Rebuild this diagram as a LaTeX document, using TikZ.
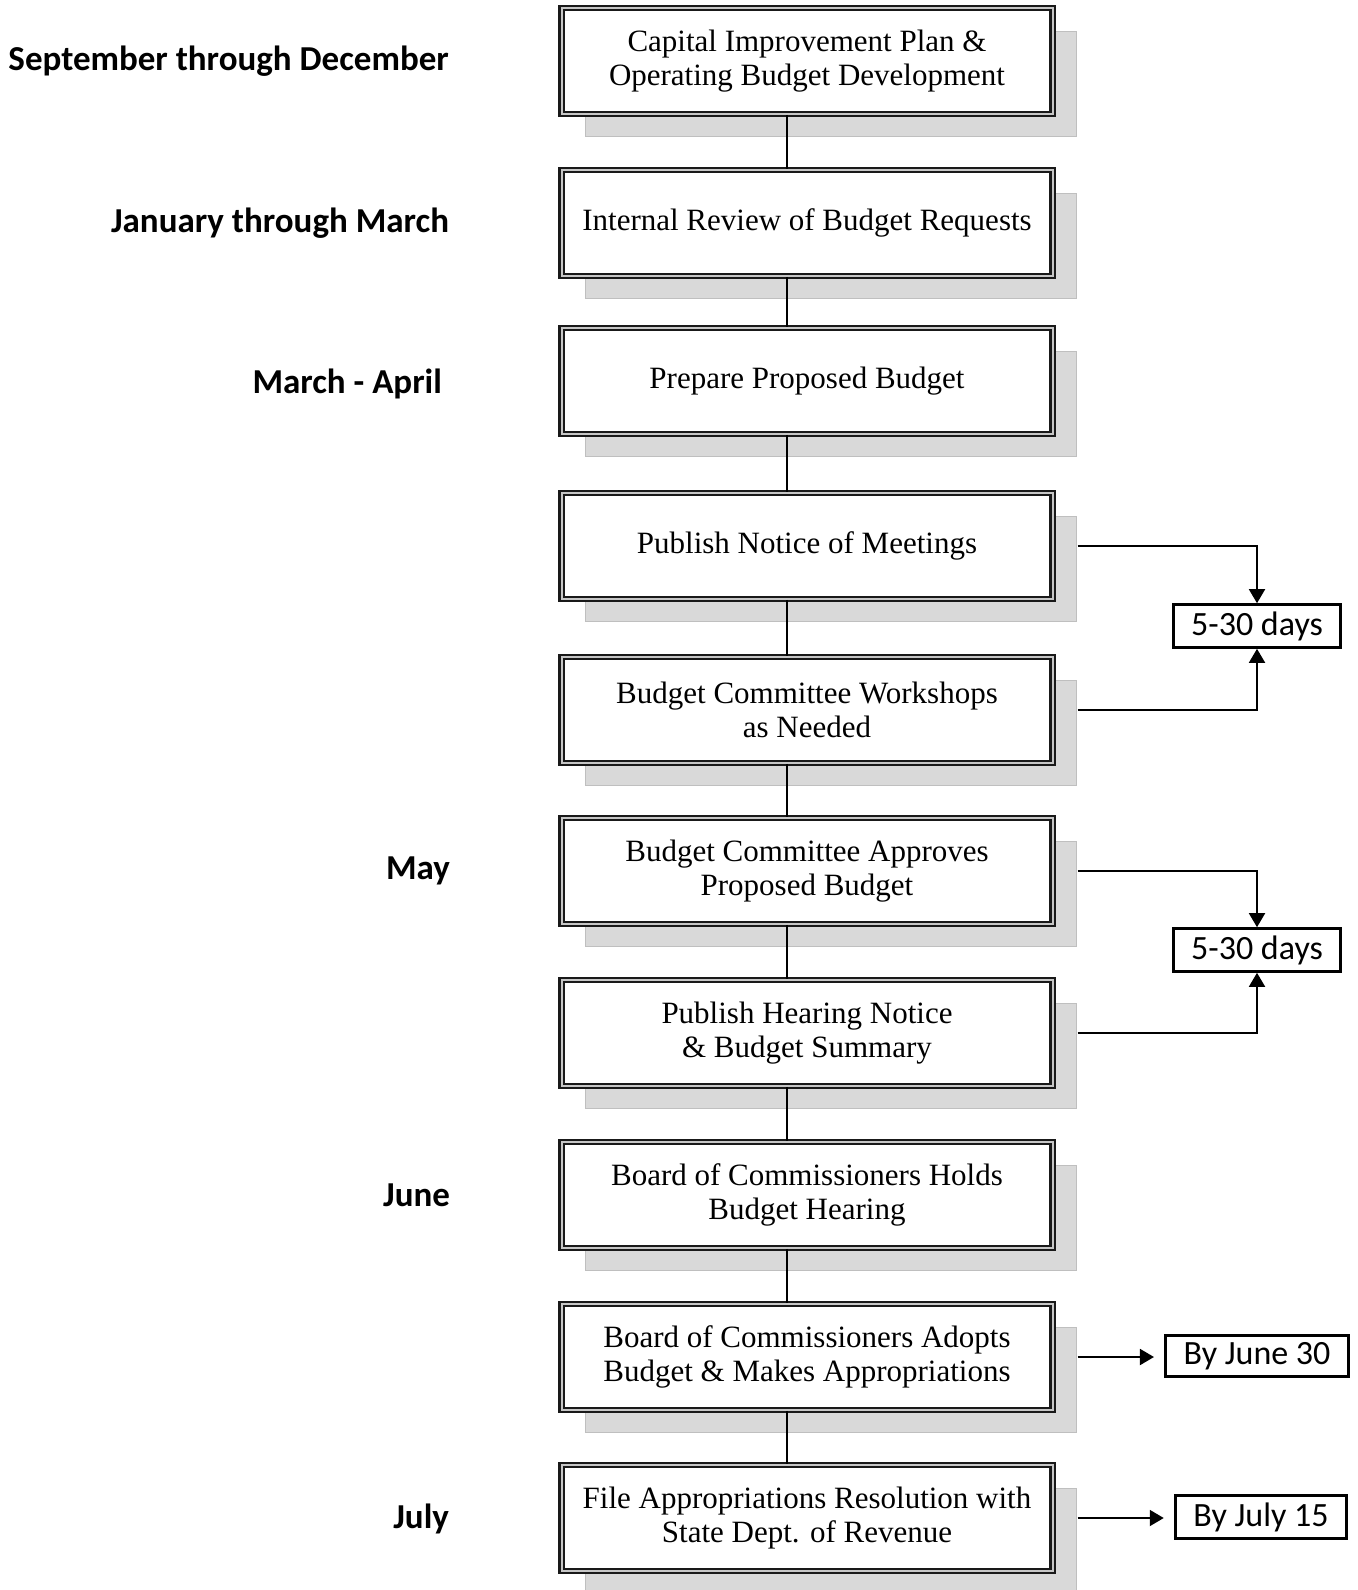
\documentclass[tikz,border=0pt]{standalone}
\usepackage{fontspec}
\setmainfont{Liberation Serif}
\newfontfamily\calibri{Carlito}
\usepackage{tikz}
\usetikzlibrary{calc,positioning,shapes,shadows,arrows.meta}

\definecolor{shadowgray}{RGB}{217,217,217}

\tikzset{
  stage/.style = {draw=black!90, line width=1.1pt, double=gray!45, double distance=1pt,
    fill=white, minimum width=245.5pt, minimum height=52.75pt, inner sep=0pt,
    align=center, font=\fontsize{15.5}{17.2}\selectfont,
    drop shadow={shadow xshift=12pt, shadow yshift=-11.5pt, fill=shadowgray,
      opacity=1, draw=gray!50, line width=0.5pt}},
  when/.style = {anchor=east, font=\calibri\bfseries\fontsize{17.5}{21}\selectfont},
  deadline/.style = {draw, line width=1.6pt, fill=white, inner xsep=9pt,
    minimum height=20pt, font=\calibri\fontsize{17}{20}\selectfont},
  link/.style = {line width=0.9pt},
  pointer/.style = {line width=0.9pt, -{Triangle[length=7pt,width=8pt]}}
}

\begin{document}
\begin{tikzpicture}[x=0.5pt, y=-0.5pt]
\useasboundingbox (0,0) rectangle (1357,1590);

% steps of the budget calendar
\node[stage] (s1) at (807,61) {Capital Improvement Plan \&\\Operating Budget Development};
\node[stage] (s2) at (807,223) {Internal Review of Budget Requests};
\node[stage] (s3) at (807,381) {Prepare Proposed Budget};
\node[stage] (s4) at (807,546) {Publish Notice of Meetings};
\node[stage] (s5) at (807,710) {Budget Committee Workshops\\as Needed};
\node[stage] (s6) at (807,871) {Budget Committee Approves\\Proposed Budget};
\node[stage] (s7) at (807,1033) {Publish Hearing Notice\\\& Budget Summary};
\node[stage] (s8) at (807,1195) {Board of Commissioners Holds\\Budget Hearing};
\node[stage] (s9) at (807,1357) {Board of Commissioners Adopts\\Budget \& Makes Appropriations};
\node[stage] (s10) at (807,1518) {File Appropriations Resolution with\\State Dept. of Revenue};

\foreach \a/\b in {s1/s2,s2/s3,s3/s4,s4/s5,s5/s6,s6/s7,s7/s8,s8/s9,s9/s10}
  \draw[link] ([xshift=-10pt]\a.south) -- ([xshift=-10pt]\b.north);

% months
\node[when] (m1) at (456,61) {September through December};
\node[when] (m2) at (456,223) {January through March};
\node[when] (m3) at (449,384) {March - April};
\node[when] (m4) at (457,871) {May};
\node[when] (m5) at (457,1195) {June};
\node[when] (m6) at (456,1519) {July};

% deadlines
\node[deadline] (d1) at (1257,626) {5-30 days};
\node[deadline] (d2) at (1257,950) {5-30 days};
\node[deadline] (d3) at (1257,1356) {By June 30};
\node[deadline] (d4) at (1261,1517) {By July 15};

\draw[pointer] ([xshift=12pt]s4.east) -| (d1.north);
\draw[pointer] ([xshift=12pt]s5.east) -| (d1.south);
\draw[pointer] ([xshift=12pt]s6.east) -| (d2.north);
\draw[pointer] ([xshift=12pt]s7.east) -| (d2.south);
\draw[pointer, shorten >=5pt] ([xshift=12pt]s9.east) -- (s9.east -| d3.west);
\draw[pointer, shorten >=5pt] ([xshift=12pt]s10.east) -- (s10.east -| d4.west);
\end{tikzpicture}
\end{document}
